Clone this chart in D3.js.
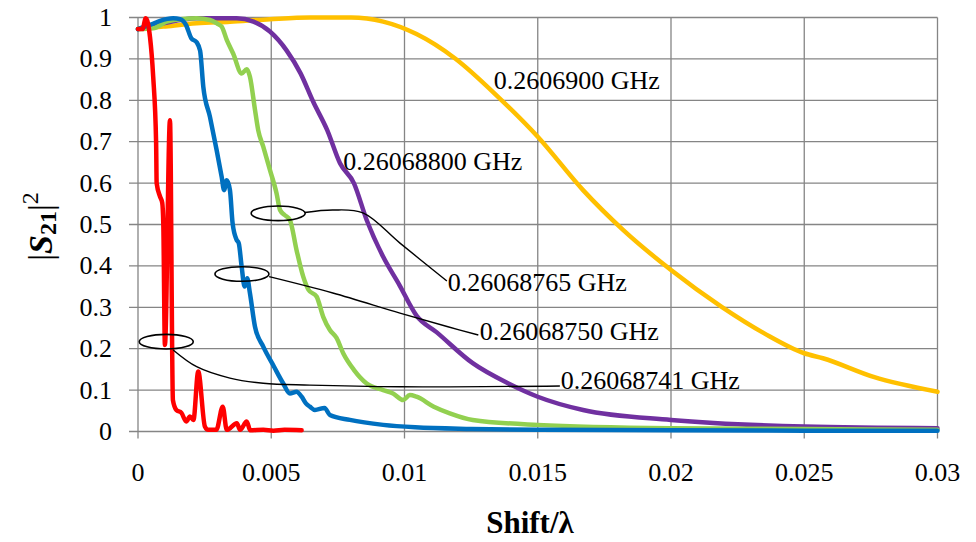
<!DOCTYPE html>
<html>
<head>
<meta charset="utf-8">
<script src="https://cdn.jsdelivr.net/npm/d3@7"></script>
<style>
  html, body { margin: 0; padding: 0; background: #ffffff; }
  svg { display: block; }
  text { font-family: "Liberation Serif", "Times New Roman", serif; fill: #000; }
</style>
</head>
<body>
<div id="chart"></div>
<script>
// Transmission |S21|^2 versus normalised shift, one curve per frequency.
const xTicks = [0, 0.005, 0.01, 0.015, 0.02, 0.025, 0.03];
const xTickLabels = ["0", "0.005", "0.01", "0.015", "0.02", "0.025", "0.03"];
const yTicks = [0, 0.1, 0.2, 0.3, 0.4, 0.5, 0.6, 0.7, 0.8, 0.9, 1];
const yTickLabels = ["0", "0.1", "0.2", "0.3", "0.4", "0.5", "0.6", "0.7", "0.8", "0.9", "1"];

const seriesNames = ["0.2606900 GHz", "0.26068800 GHz", "0.26068765 GHz", "0.26068750 GHz", "0.26068741 GHz"];
const seriesColors = ["#ffc000", "#7030a0", "#92d050", "#0070c0", "#ff0000"];

// [shift/lambda, |S21|^2]
const f2606900 = [
  [0, 0.972], [0.00095, 0.978], [0.0022, 0.986], [0.00345, 0.990], [0.00495, 0.996],
  [0.00645, 1.0], [0.008, 1.0], [0.0092, 0.990], [0.01045, 0.960], [0.0119, 0.901],
  [0.0135, 0.809], [0.015, 0.712], [0.0167, 0.583], [0.0182, 0.487], [0.02, 0.390],
  [0.0219, 0.301], [0.0235, 0.237], [0.025, 0.189], [0.0257, 0.177], [0.0276, 0.132],
  [0.03, 0.096]
];
const f26068800 = [
  [0, 0.972], [0.00095, 0.986], [0.0022, 0.998], [0.0037, 0.998], [0.00433, 0.990],
  [0.00495, 0.966], [0.00558, 0.920], [0.0061, 0.865], [0.00657, 0.797], [0.0071, 0.728],
  [0.00758, 0.648], [0.0081, 0.600], [0.00858, 0.511], [0.0092, 0.422], [0.0098, 0.355],
  [0.01045, 0.280], [0.0112, 0.240], [0.01256, 0.165], [0.0139, 0.116], [0.015, 0.084],
  [0.0167, 0.052], [0.02, 0.028], [0.025, 0.012], [0.03, 0.008]
];
const f26068765 = [
  [0, 0.972], [0.00057, 0.974], [0.00108, 0.990], [0.0016, 0.996], [0.0022, 0.998],
  [0.0027, 0.994], [0.003, 0.984], [0.00314, 0.978], [0.00333, 0.946], [0.00357, 0.913],
  [0.00389, 0.865], [0.00408, 0.875], [0.0042, 0.857], [0.00439, 0.777], [0.00451, 0.728],
  [0.0047, 0.688], [0.00495, 0.632], [0.0052, 0.575], [0.00533, 0.535], [0.0055, 0.523],
  [0.0057, 0.511], [0.00595, 0.438], [0.0062, 0.374], [0.0064, 0.342], [0.0067, 0.326],
  [0.00695, 0.277], [0.0072, 0.245], [0.00745, 0.226], [0.0077, 0.189], [0.0081, 0.149],
  [0.00858, 0.116], [0.0092, 0.100], [0.00957, 0.092], [0.00995, 0.076], [0.0102, 0.088],
  [0.01045, 0.084], [0.0111, 0.060], [0.0117, 0.044], [0.01256, 0.028], [0.015, 0.016],
  [0.02, 0.008], [0.025, 0.006], [0.03, 0.004]
];
const f26068750 = [
  [0, 0.972], [0.00045, 0.982], [0.00083, 0.992], [0.00132, 0.998], [0.00158, 0.996],
  [0.0018, 0.982], [0.002, 0.950], [0.0022, 0.940], [0.00233, 0.920], [0.00245, 0.833],
  [0.0027, 0.760], [0.00295, 0.680], [0.00314, 0.615], [0.00323, 0.583], [0.00333, 0.607],
  [0.00345, 0.583], [0.00355, 0.503], [0.0037, 0.463], [0.00378, 0.455], [0.00389, 0.398],
  [0.004, 0.350], [0.0041, 0.370], [0.0042, 0.334], [0.00439, 0.253], [0.0047, 0.205],
  [0.0051, 0.157], [0.00545, 0.116], [0.0057, 0.092], [0.00595, 0.096], [0.00614, 0.084],
  [0.0063, 0.068], [0.00645, 0.060], [0.00664, 0.052], [0.007, 0.057], [0.0072, 0.040],
  [0.00795, 0.028], [0.0092, 0.016], [0.0104, 0.010], [0.0125, 0.006], [0.015, 0.004],
  [0.02, 0.003], [0.025, 0.002], [0.03, 0.002]
];
const f26068741 = [
  [0, 0.972], [0.00017, 0.972], [0.00029, 0.998], [0.00045, 0.953], [0.00057, 0.857],
  [0.00068, 0.697], [0.0007, 0.600], [0.00083, 0.567], [0.00091, 0.552], [0.00095, 0.500],
  [0.00101, 0.209], [0.0012, 0.752], [0.00131, 0.076], [0.00144, 0.052], [0.00163, 0.045],
  [0.00181, 0.024], [0.00195, 0.036], [0.00208, 0.028], [0.00226, 0.145], [0.00251, 0.012],
  [0.00263, 0.004], [0.00294, 0.004], [0.00318, 0.060], [0.00333, 0.004], [0.00371, 0.020],
  [0.00383, 0.004], [0.00408, 0.024], [0.00421, 0.003], [0.0047, 0.004], [0.00508, 0.002],
  [0.0055, 0.004], [0.00614, 0.003]
];
const seriesData = [f2606900, f26068800, f26068765, f26068750, f26068741];

// Callout ellipses (data-space centre) with leader lines ending at their labels
const callouts = [
  { label: seriesNames[2], center: [0.00526, 0.527],
    leader: [[0.00626, 0.529], [0.00731, 0.535], [0.00844, 0.528], [0.00983, 0.455], [0.01159, 0.3635]],
    text: [0.01162, 0.361] },
  { label: seriesNames[3], center: [0.0039, 0.3804],
    leader: [[0.00492, 0.374], [0.00731, 0.3345], [0.00983, 0.286], [0.01163, 0.253], [0.01277, 0.233]],
    text: [0.01282, 0.2425] },
  { label: seriesNames[4], center: [0.00106, 0.217],
    leader: [[0.00132, 0.197], [0.0022, 0.1565], [0.00345, 0.129], [0.0047, 0.1164], [0.00645, 0.112], [0.00983, 0.108], [0.01583, 0.110]],
    text: [0.01586, 0.122] }
];
const directLabels = [
  { label: seriesNames[0], pos: [0.01335, 0.847] },
  { label: seriesNames[1], pos: [0.0077, 0.653] }
];

const W = 976, H = 542;
const margin = { top: 17.5, right: 38.5, bottom: 110.5, left: 138 };

const svg = d3.select("#chart").append("svg")
  .attr("width", W).attr("height", H);

const x = d3.scaleLinear().domain([0, 0.03]).range([margin.left, W - margin.right]);
const y = d3.scaleLinear().domain([0, 1]).range([H - margin.bottom, margin.top]);

// Grid
const grid = svg.append("g").attr("stroke", "#858585").attr("stroke-width", 1.3);
grid.selectAll("line.v").data(xTicks).join("line")
  .attr("class", "v")
  .attr("x1", d => x(d)).attr("x2", d => x(d))
  .attr("y1", y(1)).attr("y2", y(0) + 7);
grid.selectAll("line.h").data(yTicks).join("line")
  .attr("class", "h")
  .attr("x1", x(0) - 9).attr("x2", x(0.03))
  .attr("y1", d => y(d)).attr("y2", d => y(d));

// Tick labels
svg.append("g").selectAll("text").data(xTicks).join("text")
  .attr("x", d => x(d)).attr("y", y(0) + 49)
  .attr("text-anchor", "middle")
  .attr("font-size", 26)
  .text((d, i) => xTickLabels[i]);
svg.append("g").selectAll("text").data(yTicks).join("text")
  .attr("x", x(0) - 26).attr("y", d => y(d))
  .attr("text-anchor", "end")
  .attr("dominant-baseline", "central")
  .attr("font-size", 26)
  .text((d, i) => yTickLabels[i]);

// Curves
const line = d3.line().x(d => x(d[0])).y(d => y(d[1])).curve(d3.curveMonotoneX);
svg.append("g").selectAll("path").data(seriesData).join("path")
  .attr("d", line)
  .attr("fill", "none")
  .attr("stroke", (d, i) => seriesColors[i])
  .attr("stroke-width", 4.5)
  .attr("stroke-linejoin", "round")
  .attr("stroke-linecap", "round");

// Callouts
const leaderLine = d3.line().x(d => x(d[0])).y(d => y(d[1])).curve(d3.curveCatmullRom);
const cg = svg.append("g");
callouts.forEach(c => {
  cg.append("ellipse")
    .attr("cx", x(c.center[0])).attr("cy", y(c.center[1]))
    .attr("rx", 27).attr("ry", 7.3)
    .attr("fill", "none").attr("stroke", "#000").attr("stroke-width", 1.6);
  cg.append("path")
    .attr("d", leaderLine(c.leader))
    .attr("fill", "none").attr("stroke", "#000").attr("stroke-width", 1.4);
  cg.append("text")
    .attr("x", x(c.text[0])).attr("y", y(c.text[1]))
    .attr("dominant-baseline", "central")
    .attr("font-size", 26)
    .text(c.label);
});
directLabels.forEach(l => {
  svg.append("text")
    .attr("x", x(l.pos[0])).attr("y", y(l.pos[1]))
    .attr("dominant-baseline", "central")
    .attr("font-size", 26)
    .text(l.label);
});

// Axis titles
svg.append("text")
  .attr("x", 530).attr("y", 533)
  .attr("text-anchor", "middle")
  .attr("font-size", 31).attr("font-weight", "bold")
  .text("Shift/\u03bb");

const yt = svg.append("text")
  .attr("transform", `translate(52, ${y(0.495)}) rotate(-90)`)
  .attr("text-anchor", "middle")
  .attr("font-size", 34);
yt.append("tspan").text("|");
yt.append("tspan").attr("font-weight", "bold").attr("font-style", "italic").text("S");
yt.append("tspan").attr("font-weight", "bold").attr("font-size", 24).attr("dy", 4).text("21");
yt.append("tspan").attr("dy", -4).text("|");
yt.append("tspan").attr("font-size", 24).attr("dy", -14).text("2");
</script>
</body>
</html>
